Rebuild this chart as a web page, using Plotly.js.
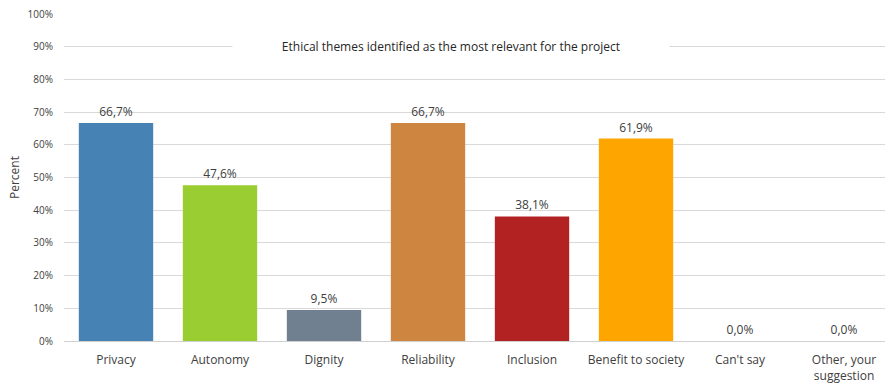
<!DOCTYPE html>
<html>
<head>
<meta charset="utf-8">
<script src="https://cdn.plot.ly/plotly-3.0.1.min.js"></script>
<style>html,body{margin:0;padding:0;background:#fff;}#chart{width:885px;height:385px;}</style>
</head>
<body>
<div id="chart"></div>
<script>
const categories = ["Privacy", "Autonomy", "Dignity", "Reliability", "Inclusion", "Benefit to society", "Can't say", "Other, your<br>suggestion"];
const percentValues = [66.7, 47.6, 9.5, 66.7, 38.1, 61.9, 0.0, 0.0];
const barColors = ["#4682B4", "#9ACD32", "#708090", "#CD853F", "#B22222", "#FFA500", "#888888", "#888888"];
const yTickValues = [0, 10, 20, 30, 40, 50, 60, 70, 80, 90, 100];
const yTickLabels = yTickValues.map(v => v + "%");
const chartTitle = "Ethical themes identified as the most relevant for the project";
const yTitle = "Percent";

const fontFam = "Open Sans, Liberation Sans, sans-serif";
const trace = {
  type: "bar",
  x: categories,
  y: percentValues,
  marker: {color: barColors},
  width: 0.715,
  texttemplate: "%{y:.1f}%",
  textposition: "outside",
  cliponaxis: false,
  textfont: {family: fontFam, size: 12, color: "#404040"},
  hoverinfo: "none"
};
const layout = {
  width: 885, height: 385,
  margin: {l: 64, r: 0, t: 14, b: 44},
  paper_bgcolor: "#fff", plot_bgcolor: "#fff",
  separators: ", ",
  showlegend: false,
  font: {family: fontFam, size: 11, color: "#404040"},
  xaxis: {
    type: "category",
    range: [-0.5, 7.394],
    showgrid: false,
    showline: false,
    ticks: "",
    ticklabelstandoff: 10,
    tickfont: {family: fontFam, size: 12, color: "#404040"},
    fixedrange: true
  },
  yaxis: {
    range: [0, 100],
    tickvals: yTickValues,
    ticktext: yTickLabels,
    showgrid: true,
    gridcolor: "#d9d9d9",
    gridwidth: 1,
    zeroline: true,
    zerolinecolor: "#d0d0d0",
    zerolinewidth: 1,
    showline: false,
    ticks: "",
    ticklabelstandoff: 10,
    tickfont: {family: fontFam, size: 10, color: "#404040"},
    title: {text: yTitle, font: {family: fontFam, size: 12, color: "#404040"}, standoff: 5},
    fixedrange: true
  },
  annotations: [{
    text: chartTitle,
    xref: "paper", yref: "paper",
    x: 0.471, y: 0.9, xanchor: "center", yanchor: "middle",
    showarrow: false,
    bgcolor: "#ffffff",
    borderpad: 9,
    width: 418,
    font: {family: fontFam, size: 12, color: "#262626"}
  }]
};
Plotly.newPlot("chart", [trace], layout, {displayModeBar: false, staticPlot: true});
</script>
</body>
</html>
